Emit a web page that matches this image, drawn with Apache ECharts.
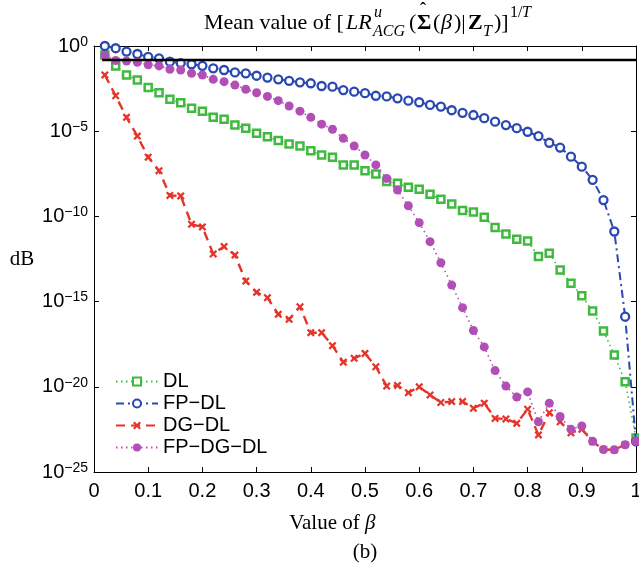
<!DOCTYPE html>
<html><head><meta charset="utf-8">
<script src="https://cdn.jsdelivr.net/npm/echarts@6/dist/echarts.min.js"></script>
<style>html,body{margin:0;padding:0;background:#fff}#c{width:639px;height:574px}#err{position:absolute;left:120px;top:100px;font:12px monospace;color:#c00;width:500px}</style>
</head><body><div id="c"></div><div id="err"></div>
<script>
window.onerror = function(m,s,l,c,e){ document.getElementById('err').textContent += ' ERR: '+m; };
const beta = [0.02,0.04,0.06,0.08,0.10,0.12,0.14,0.16,0.18,0.20,0.22,0.24,0.26,0.28,0.30,0.32,0.34,0.36,0.38,0.40,
  0.42,0.44,0.46,0.48,0.50,0.52,0.54,0.56,0.58,0.60,0.62,0.64,0.66,0.68,0.70,0.72,0.74,0.76,0.78,0.80,
  0.82,0.84,0.86,0.88,0.90,0.92,0.94,0.96,0.98,1.00];
const dlVals = [3.0e-1,6.8e-2,2.0e-2,1.0e-2,3.7e-3,1.8e-3,7.4e-4,4.7e-4,2.2e-4,1.5e-4,
  6.5e-5,5.0e-5,2.3e-5,1.5e-5,7.6e-6,4.8e-6,2.8e-6,1.8e-6,1.35e-6,7.1e-7,
  4.0e-7,3.0e-7,1.05e-7,1.05e-7,4.8e-8,3.1e-8,1.1e-8,8.7e-9,5.1e-9,3.9e-9,
  2.0e-9,1.0e-9,5.4e-10,2.2e-10,1.8e-10,8.9e-11,2.2e-11,9.3e-12,4.5e-12,3.6e-12,
  4.4e-13,6.8e-13,7.1e-14,1.2e-14,2.2e-15,2.8e-16,1.9e-17,7.4e-19,2.0e-20,1.0e-23];
const fpdlVals = [1.0,7.4e-1,4.7e-1,3.4e-1,2.3e-1,1.9e-1,1.2e-1,1.0e-1,8.5e-2,6.9e-2,
  4.9e-2,3.9e-2,2.8e-2,2.5e-2,1.8e-2,1.4e-2,1.1e-2,9.1e-3,7.4e-3,6.5e-3,
  4.5e-3,4.1e-3,2.6e-3,2.1e-3,1.7e-3,1.2e-3,1.1e-3,8.5e-4,6.2e-4,5.0e-4,
  3.5e-4,2.8e-4,1.7e-4,1.2e-4,8.9e-5,5.8e-5,3.6e-5,2.3e-5,1.5e-5,9.3e-6,
  5.2e-6,2.1e-6,1.1e-6,3.2e-7,8.3e-8,1.4e-8,9.1e-10,1.3e-11,1.3e-16,6.3e-24];
const dgdlVals = [2.0e-2,1.2e-3,6.5e-5,5.2e-6,3.0e-7,4.8e-8,1.7e-9,1.6e-9,3.5e-11,2.4e-11,
  6.3e-13,1.7e-12,5.4e-13,1.6e-14,3.5e-15,1.7e-15,1.8e-16,9.1e-17,5.0e-16,1.5e-17,
  1.5e-17,2.6e-18,2.8e-19,4.7e-19,9.1e-19,1.5e-19,1.1e-20,1.2e-20,4.5e-21,1.0e-20,
  3.3e-21,1.2e-21,1.35e-21,1.35e-21,5.5e-22,1.1e-21,1.4e-22,1.3e-22,7.2e-23,4.8e-22,
  1.5e-23,3.0e-22,8.9e-23,2.0e-23,3.2e-23,6.0e-24,2.1e-24,2.0e-24,4.0e-24,6.3e-24];
const fpdgdlVals = [2.8e-1,1.4e-1,1.3e-1,1.1e-1,7.9e-2,6.8e-2,4.3e-2,3.9e-2,2.5e-2,2.0e-2,
  1.1e-2,8.1e-3,5.1e-3,2.9e-3,1.8e-3,1.1e-3,6.2e-4,3.0e-4,1.5e-4,6.5e-5,
  2.6e-5,1.3e-5,3.8e-6,1.35e-6,4.0e-7,1.05e-7,1.7e-8,3.5e-9,4.2e-10,4.3e-11,
  3.3e-12,1.9e-13,9.3e-15,4.4e-16,2.0e-17,2.2e-18,8.9e-20,1.1e-20,2.5e-21,5.0e-21,
  8.9e-23,1.1e-21,1.8e-22,3.2e-23,5.0e-23,6.3e-24,2.1e-24,2.0e-24,4.0e-24,6.3e-24];
const refLineX = [0.015, 1.0];
const refLineY = [0.15, 0.15];
const seriesNames = ['DL','FP\u2212DL','DG\u2212DL','FP\u2212DG\u2212DL'];
const xTickLabels = ['0','0.1','0.2','0.3','0.4','0.5','0.6','0.7','0.8','0.9','1'];
const yTickValues = [1e-25,1e-20,1e-15,1e-10,1e-5,1];

const C_GREEN = '#3fba3f', C_BLUE = '#2a48b2', C_RED = '#e5352a', C_MAG = '#b24fb6';
const sansFont = '"Liberation Sans", Arial, sans-serif';
const serifFont = '"Liberation Serif", "Times New Roman", serif';

function pairs(xs, ys){ return xs.map((x,i)=>[x, ys[i]]); }
const xMark = 'path://M2,0 L5,3 L8,0 L10,2 L7,5 L10,8 L8,10 L5,7 L2,10 L0,8 L3,5 L0,2 Z';

function txt(x, y, text, font, extra){
  return {type:'text', x:x, y:y, silent:true,
    style:Object.assign({text:text, font:font, fill:'#000', verticalAlign:'middle'}, extra||{})};
}
const T = 22, S = 16;
const titleY = 23, supY = 13, subY = 32, dx = 6;

try {
const chart = echarts.init(document.getElementById('c'), null, {renderer:'canvas', width:639, height:574});
function axisCommon(){ return {
  axisLine:{show:true, onZero:false, lineStyle:{color:'#000', width:1}},
  splitLine:{show:false}
};}
const tickCommon = {show:true, inside:true, length:5, lineStyle:{color:'#000', width:1}};
const option = {
  animation:false,
  backgroundColor:'#fff',
  grid:{left:94, right:3, top:46, bottom:102, show:false, containLabel:false, outerBoundsMode:'none'},
  xAxis:[
    Object.assign({type:'value', min:0, max:1, interval:0.1, position:'bottom',
      axisTick:tickCommon,
      axisLabel:{show:true, margin:9, fontFamily:sansFont, fontSize:20, color:'#000',
        formatter:(v)=>xTickLabels[Math.round(v*10)]}}, axisCommon()),
    Object.assign({type:'value', min:0, max:1, interval:0.1, position:'top',
      axisTick:tickCommon, axisLabel:{show:false}}, axisCommon())
  ],
  yAxis:[
    Object.assign({type:'log', logBase:10, min:1e-25, max:1, splitNumber:5, position:'left',
      axisTick:Object.assign({customValues:yTickValues}, tickCommon),
      axisLabel:{show:true, margin:6, color:'#000', customValues:yTickValues,
        formatter:(v)=>{const e=Math.round(Math.log10(v)); return '{b|10}{e|'+(e===0?'0':'\u2212'+(-e))+'}';},
        rich:{b:{fontFamily:sansFont, fontSize:20, color:'#000', lineHeight:22},
              e:{fontFamily:sansFont, fontSize:14, color:'#000', lineHeight:22, padding:[0,0,8,0]}}}}, axisCommon()),
    Object.assign({type:'log', logBase:10, min:1e-25, max:1, splitNumber:5, position:'right',
      axisTick:Object.assign({customValues:yTickValues}, tickCommon),
      axisLabel:{show:false}}, axisCommon())
  ],
  legend:{
    orient:'vertical', left:110, top:366, itemWidth:42, itemHeight:10, itemGap:1,
    textStyle:{fontFamily:sansFont, fontSize:20, color:'#000', lineHeight:21},
    data:seriesNames
  },
  series:[
    {name:seriesNames[0], type:'line', data:pairs(beta, dlVals), symbol:'rect', symbolSize:7,
      itemStyle:{color:'#fff', borderColor:C_GREEN, borderWidth:2.5},
      lineStyle:{color:C_GREEN, width:1.6, type:[1.5,3.5]}, z:2},
    {name:seriesNames[1], type:'line', data:pairs(beta, fpdlVals), symbol:'circle', symbolSize:8,
      itemStyle:{color:'#fff', borderColor:C_BLUE, borderWidth:2.3},
      lineStyle:{color:C_BLUE, width:2, type:[8,4,2,4]}, z:3},
    {name:seriesNames[2], type:'line', data:pairs(beta, dgdlVals), symbol:xMark, symbolSize:8,
      itemStyle:{color:C_RED, borderColor:C_RED, borderWidth:0},
      lineStyle:{color:C_RED, width:2.4, type:[9,6]}, z:4},
    {name:seriesNames[3], type:'line', data:pairs(beta, fpdgdlVals), symbol:'circle', symbolSize:9,
      itemStyle:{color:C_MAG, borderColor:C_MAG, borderWidth:0},
      lineStyle:{color:C_MAG, width:1.6, type:[1.5,3.5]}, z:5},
    {name:'ref', type:'line', data:pairs(refLineX, refLineY), symbol:'none',
      lineStyle:{color:'#000', width:2.5, type:'solid'}, z:6, silent:true}
  ],
  graphic:{elements:[
    txt(198+dx, titleY, 'Mean value of [', T+'px '+serifFont),
    txt(340+dx, titleY, 'LR', 'italic '+T+'px '+serifFont),
    txt(368+dx, supY, 'u', 'italic '+S+'px '+serifFont),
    txt(367+dx, subY, 'ACG', 'italic '+S+'px '+serifFont),
    txt(403+dx, titleY, '(', T+'px '+serifFont),
    txt(411+dx, titleY, '\u03A3', 'bold '+T+'px '+serifFont),
    txt(414+dx, 10, '\u02C6', 'bold 18px '+serifFont),
    txt(427+dx, titleY, '(', T+'px '+serifFont),
    txt(435+dx, titleY, '\u03B2', 'italic '+T+'px '+serifFont),
    txt(448+dx, titleY, ')|', T+'px '+serifFont),
    txt(462+dx, titleY, 'Z', 'bold '+T+'px '+serifFont),
    txt(477+dx, subY, 'T', 'italic '+S+'px '+serifFont),
    txt(488+dx, titleY, ')]', T+'px '+serifFont),
    txt(504+dx, supY, '1/', S+'px '+serifFont),
    txt(516+dx, supY, 'T', 'italic '+S+'px '+serifFont),
    txt(22, 259, 'dB', '21px '+serifFont, {align:'center'}),
    txt(365, 523, 'Value of ', '21px '+serifFont, {align:'right'}),
    txt(365, 523, '\u03B2', 'italic 21px '+serifFont, {align:'left'}),
    txt(365, 552, '(b)', '21px '+serifFont, {align:'center'})
  ]}
};
chart.setOption(option);
} catch(e) { document.getElementById('err').textContent += ' CATCH: '+e.message; }
</script>
</body></html>
